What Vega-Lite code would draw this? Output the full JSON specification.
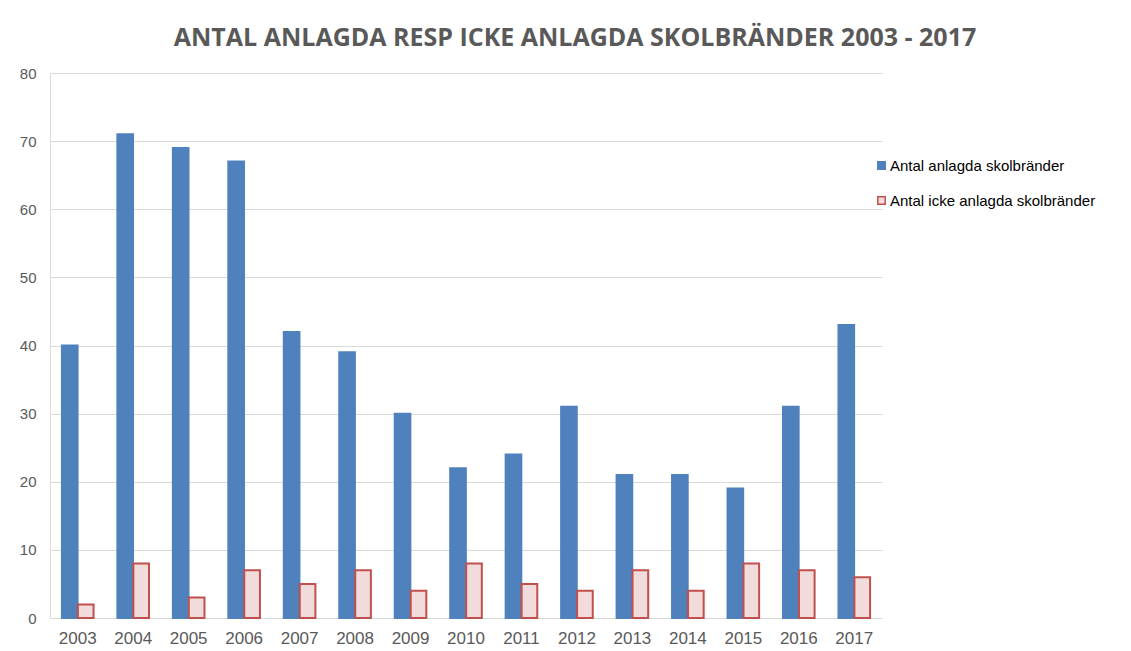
{
  "$schema": "https://vega.github.io/schema/vega-lite/v6.json",
  "width": 832,
  "height": 545,
  "autosize": {"type": "none"},
  "padding": {"left": 50, "top": 73, "right": 249, "bottom": 33},
  "background": "white",
  "title": {
    "text": "ANTAL ANLAGDA RESP ICKE ANLAGDA SKOLBRÄNDER 2003 - 2017",
    "font": "Open Sans",
    "fontSize": 25,
    "fontWeight": "bold",
    "color": "#595959",
    "anchor": "middle",
    "frame": "group",
    "dx": 109,
    "offset": 15
  },
  "data": {
    "values": [
      {"year": "2003", "serie": "Antal anlagda skolbränder", "antal": 40},
      {"year": "2003", "serie": "Antal icke anlagda skolbränder", "antal": 2},
      {"year": "2004", "serie": "Antal anlagda skolbränder", "antal": 71},
      {"year": "2004", "serie": "Antal icke anlagda skolbränder", "antal": 8},
      {"year": "2005", "serie": "Antal anlagda skolbränder", "antal": 69},
      {"year": "2005", "serie": "Antal icke anlagda skolbränder", "antal": 3},
      {"year": "2006", "serie": "Antal anlagda skolbränder", "antal": 67},
      {"year": "2006", "serie": "Antal icke anlagda skolbränder", "antal": 7},
      {"year": "2007", "serie": "Antal anlagda skolbränder", "antal": 42},
      {"year": "2007", "serie": "Antal icke anlagda skolbränder", "antal": 5},
      {"year": "2008", "serie": "Antal anlagda skolbränder", "antal": 39},
      {"year": "2008", "serie": "Antal icke anlagda skolbränder", "antal": 7},
      {"year": "2009", "serie": "Antal anlagda skolbränder", "antal": 30},
      {"year": "2009", "serie": "Antal icke anlagda skolbränder", "antal": 4},
      {"year": "2010", "serie": "Antal anlagda skolbränder", "antal": 22},
      {"year": "2010", "serie": "Antal icke anlagda skolbränder", "antal": 8},
      {"year": "2011", "serie": "Antal anlagda skolbränder", "antal": 24},
      {"year": "2011", "serie": "Antal icke anlagda skolbränder", "antal": 5},
      {"year": "2012", "serie": "Antal anlagda skolbränder", "antal": 31},
      {"year": "2012", "serie": "Antal icke anlagda skolbränder", "antal": 4},
      {"year": "2013", "serie": "Antal anlagda skolbränder", "antal": 21},
      {"year": "2013", "serie": "Antal icke anlagda skolbränder", "antal": 7},
      {"year": "2014", "serie": "Antal anlagda skolbränder", "antal": 21},
      {"year": "2014", "serie": "Antal icke anlagda skolbränder", "antal": 4},
      {"year": "2015", "serie": "Antal anlagda skolbränder", "antal": 19},
      {"year": "2015", "serie": "Antal icke anlagda skolbränder", "antal": 8},
      {"year": "2016", "serie": "Antal anlagda skolbränder", "antal": 31},
      {"year": "2016", "serie": "Antal icke anlagda skolbränder", "antal": 7},
      {"year": "2017", "serie": "Antal anlagda skolbränder", "antal": 43},
      {"year": "2017", "serie": "Antal icke anlagda skolbränder", "antal": 6}
    ]
  },
  "mark": {"type": "bar", "strokeWidth": 2},
  "encoding": {
    "x": {
      "field": "year",
      "type": "nominal",
      "scale": {"paddingInner": 0.43, "paddingOuter": 0.215},
      "axis": {
        "title": null,
        "labelAngle": 0,
        "ticks": false,
        "domain": false,
        "labelFont": "Liberation Sans",
        "labelFontSize": 17,
        "labelColor": "#595959",
        "labelPadding": 12
      }
    },
    "xOffset": {"field": "serie", "type": "nominal", "scale": {"paddingInner": 0.02}},
    "y": {
      "field": "antal",
      "type": "quantitative",
      "scale": {"domain": [0, 80]},
      "axis": {
        "title": null,
        "values": [0, 10, 20, 30, 40, 50, 60, 70, 80],
        "ticks": false,
        "domain": true,
        "domainColor": "#D9D9D9",
        "gridColor": "#D9D9D9",
        "labelFont": "Liberation Sans",
        "labelFontSize": 15,
        "labelColor": "#595959",
        "labelPadding": 14
      }
    },
    "fill": {
      "field": "serie",
      "type": "nominal",
      "scale": {"range": ["#4F81BD", "#F2DCDB"]},
      "legend": {
        "title": null,
        "orient": "none",
        "legendX": 824,
        "legendY": 85,
        "symbolType": "square",
        "symbolSize": 55,
        "symbolStrokeWidth": 1.5,
        "labelFont": "Liberation Sans",
        "labelFontSize": 15,
        "labelColor": "#000000",
        "labelOffset": 1,
        "rowPadding": 19,
        "labelLimit": 300
      }
    },
    "stroke": {
      "field": "serie",
      "type": "nominal",
      "scale": {"range": ["#4F81BD", "#C0504D"]},
      "legend": null
    }
  },
  "config": {"view": {"stroke": null}}
}
